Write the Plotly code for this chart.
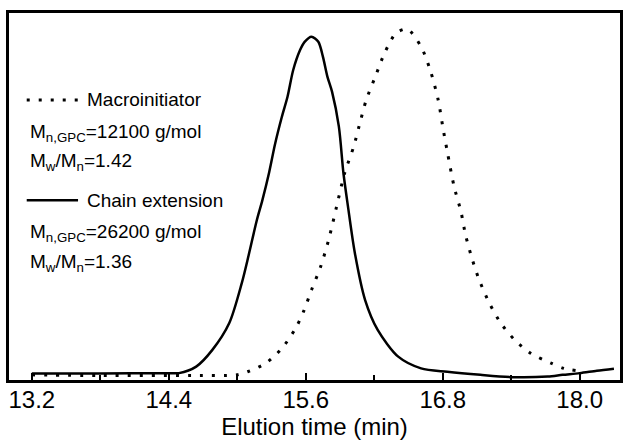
import plotly.graph_objects as go

# GPC elution traces (normalised RI response vs elution time)
macro_time = [13.20, 13.79, 14.69, 14.91, 15.00, 15.09, 15.25, 15.39, 15.51, 15.58,
              15.65, 15.73, 15.80, 15.87, 15.94, 16.02, 16.07, 16.13, 16.21, 16.29,
              16.39, 16.49, 16.61, 16.69, 16.76, 16.80, 16.84, 16.90, 16.96, 17.00,
              17.06, 17.12, 17.21, 17.31, 17.43, 17.57, 17.75, 17.86, 17.98]
macro_signal = [0.015, 0.013, 0.013, 0.013, 0.015, 0.024, 0.049, 0.092, 0.150, 0.199,
                0.262, 0.330, 0.408, 0.505, 0.602, 0.680, 0.743, 0.816, 0.884, 0.952,
                1.010, 1.022, 0.971, 0.903, 0.816, 0.738, 0.665, 0.563, 0.490, 0.422,
                0.350, 0.291, 0.223, 0.165, 0.117, 0.078, 0.049, 0.034, 0.027]

chain_time = [13.20, 13.80, 14.40, 14.49, 14.64, 14.78, 14.93, 15.04, 15.10, 15.17,
              15.22, 15.28, 15.33, 15.39, 15.44, 15.49, 15.55, 15.59, 15.65, 15.71,
              15.75, 15.79, 15.83, 15.89, 15.93, 15.97, 16.03, 16.12, 16.23, 16.41,
              16.61, 16.84, 17.13, 17.43, 17.72, 17.85, 18.00, 18.15, 18.30]
chain_signal = [0.019, 0.019, 0.020, 0.020, 0.039, 0.087, 0.166, 0.283, 0.364, 0.464,
                0.524, 0.606, 0.686, 0.766, 0.825, 0.903, 0.961, 0.985, 1.000, 0.985,
                0.942, 0.883, 0.840, 0.738, 0.603, 0.505, 0.370, 0.233, 0.146, 0.068,
                0.034, 0.024, 0.015, 0.008, 0.010, 0.015, 0.020, 0.027, 0.033]

x_ticks = [13.2, 14.4, 15.6, 16.8, 18.0]
x_tick_text = ["13.2", "14.4", "15.6", "16.8", "18.0"]

FONT = "Liberation Sans, Arial, sans-serif"
DOT = "3px,9px"

fig = go.Figure()
fig.add_trace(go.Scatter(x=macro_time, y=macro_signal, mode="lines",
                         line=dict(color="black", width=3, dash=DOT,
                                   shape="spline", smoothing=0.8),
                         showlegend=False))
fig.add_trace(go.Scatter(x=chain_time, y=chain_signal, mode="lines",
                         line=dict(color="black", width=2.5,
                                   shape="spline", smoothing=0.8),
                         showlegend=False))

# hand-made key in the upper-left corner
fig.add_shape(type="line", xref="paper", yref="paper", x0=0.029, x1=0.116,
              y0=0.763, y1=0.763, line=dict(color="black", width=3, dash=DOT))
fig.add_shape(type="line", xref="paper", yref="paper", x0=0.029, x1=0.113,
              y0=0.490, y1=0.490, line=dict(color="black", width=2.5))

key_lines = [
    (0.125, 0.763, "Macroinitiator"),
    (0.031, 0.672, "M<sub>n,GPC</sub>=12100 g/mol"),
    (0.031, 0.594, "M<sub>w</sub>/M<sub>n</sub>=1.42"),
    (0.125, 0.490, "Chain extension"),
    (0.031, 0.400, "M<sub>n,GPC</sub>=26200 g/mol"),
    (0.031, 0.319, "M<sub>w</sub>/M<sub>n</sub>=1.36"),
]
for kx, ky, txt in key_lines:
    fig.add_annotation(x=kx, y=ky, xref="paper", yref="paper", text=txt,
                       showarrow=False, xanchor="left", yanchor="middle",
                       font=dict(family=FONT, size=19, color="black"))

fig.update_layout(
    width=623, height=447,
    margin=dict(l=9, r=0, t=13, b=67),
    paper_bgcolor="white", plot_bgcolor="white",
    font=dict(family=FONT, color="black"),
)
fig.update_xaxes(range=[13.0, 18.353], tickvals=x_ticks, ticktext=x_tick_text,
                 ticks="inside", ticklen=7, tickwidth=1.5, tickcolor="black",
                 ticklabelstandoff=-4,
                 minor=dict(tickvals=[13.8, 15.0, 16.2, 17.4], ticks="inside",
                            ticklen=5, tickwidth=1.5, tickcolor="black"),
                 showline=True, linewidth=2.5, linecolor="black", mirror=True,
                 showgrid=False, zeroline=False,
                 tickfont=dict(family=FONT, size=24, color="black"),
                 title=dict(text="Elution time (min)", standoff=7,
                            font=dict(family=FONT, size=24, color="black")))
fig.update_yaxes(range=[0, 1.069], showticklabels=False, ticks="",
                 showline=True, linewidth=2.5, linecolor="black", mirror=True,
                 showgrid=False, zeroline=False)

fig.write_html("out.html")
